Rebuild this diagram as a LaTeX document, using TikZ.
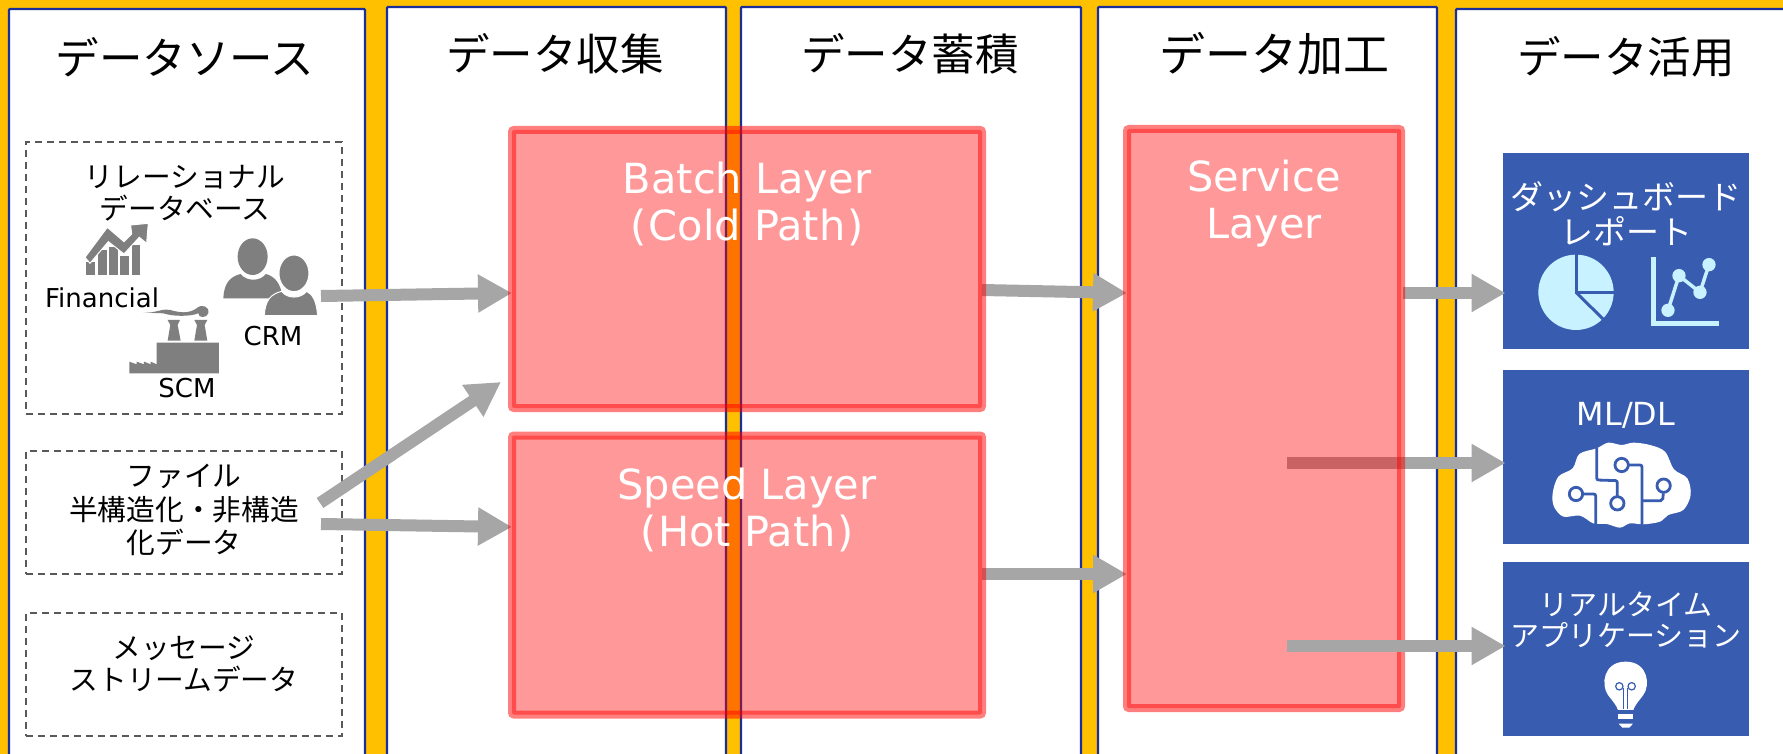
\documentclass[tikz,border=0pt]{standalone}
\usepackage{fontspec}
\usetikzlibrary{arrows.meta}
\setmainfont{DejaVu Sans}
\newfontfamily\jpfont{Noto Sans CJK JP}
\definecolor{amberbg}{HTML}{FFC000}
\definecolor{coledge}{HTML}{1B2F9B}
\definecolor{flowgray}{HTML}{A6A6A6}
\definecolor{appblue}{HTML}{385CB0}
\definecolor{applight}{HTML}{C8F2FF}
\definecolor{icongray}{HTML}{7F7F7F}
\newcommand{\fsize}[1]{\fontsize{#1}{#1}\selectfont}
\tikzset{
  coltitle/.style={text=black, font=\jpfont\fsize{43.5}},
  columnbox/.style={draw=coledge, fill=white, line width=2.2pt, rounded corners=1pt},
  sourcebox/.style={draw=black!65, dashed, line width=2pt, dash pattern=on 7pt off 5pt, minimum width=316pt, inner sep=0pt},
  sourcetext/.style={align=center, font=\jpfont\fontsize{28.7}{32}\selectfont},
  smalltext/.style={font=\fsize{26}},
  layerbox/.style={draw=red, draw opacity=0.5, fill=red, fill opacity=0.4, line width=8pt, rounded corners=2pt, inner sep=0pt, outer sep=0pt},
  layertext/.style={text=white, align=center, font=\fontsize{41.5}{47}\selectfont},
  appbox/.style={fill=appblue, minimum width=246pt, inner sep=0pt, outer sep=0pt},
  apptext/.style={text=white, align=center, font=\jpfont\fontsize{33}{35}\selectfont},
  flow/.style={draw=flowgray, line width=12pt, -{Triangle[length=34pt,width=36pt]}},
}

\begin{document}
\begin{tikzpicture}[x=1pt, y=-1pt]
      \useasboundingbox (0,0) rectangle (1783,754);
      \fill[amberbg] (0,0) rectangle (1783,754);

      % columns
      \draw[columnbox] (9,9) rectangle (365,770);
      \draw[columnbox] (387,7) rectangle (726,770);
      \draw[columnbox] (741,7) rectangle (1081,770);
      \draw[columnbox] (1098,7) rectangle (1437,770);
      \draw[columnbox] (1456,9) rectangle (1800,770);
      \node[coltitle] (titlesource) at (185,57) {データソース};
      \node[coltitle] (titlecollect) at (555,54) {データ収集};
      \node[coltitle] (titlestore) at (910,54) {データ蓄積};
      \node[coltitle, font=\jpfont\fsize{46}] (titleprocess) at (1274,54) {データ加工};
      \node[coltitle] (titleuse) at (1626,57) {データ活用};

      % sources
      \node[sourcebox, minimum height=272pt] (rdb) at (184,278) {};
      \node[sourcebox, minimum height=123pt] (files) at (184,512) {};
      \node[sourcebox, minimum height=123pt] (stream) at (184,674.5) {};
      \node[sourcetext] (rdbtext) at (185,193) {リレーショナル\\データベース};
      \node[sourcetext, font=\jpfont\fontsize{28.7}{33.5}\selectfont] (filetext) at (184,510) {ファイル\\半構造化・非構造\\化データ};
      \node[sourcetext] (streamtext) at (184,664) {メッセージ\\ストリームデータ};
      \node[smalltext] (fintext) at (102,298) {Financial};
      \node[smalltext] (crmtext) at (273,336) {CRM};
      \node[smalltext] (scmtext) at (187,388) {SCM};

      % financial icon
      \begin{scope}[shift={(0,130)}, scale=0.3333]
        \fill[icongray] (258,395) rectangle (285,435);
        \fill[icongray] (293,360) rectangle (320,435);
        \fill[icongray] (327,350) rectangle (353,435);
        \fill[icongray] (361,378) rectangle (387,435);
        \fill[icongray] (395,345) rectangle (420,435);
        \fill[icongray, draw=white, line width=1pt] (255,382) -- (322,292) -- (372,335) -- (395,312) -- (392,285) -- (445,280) -- (440,340) -- (418,322) -- (372,372) -- (325,335) -- (270,400) -- cycle;
      \end{scope}

      % people icon
      \begin{scope}[shift={(0,130)}, scale=0.3333]
        \fill[icongray] (758,380) ellipse (45 and 55);
        \fill[icongray] (670,505) .. controls (672,460) and (690,440) .. (722,432) .. controls (740,455) and (780,455) .. (798,432) .. controls (825,440) and (843,460) .. (848,505) -- cycle;
        \fill[icongray, draw=white, line width=1pt] (882,430) ellipse (45 and 55);
        \fill[icongray, draw=white, line width=1pt] (793,557) .. controls (795,512) and (812,492) .. (845,484) .. controls (862,507) and (902,507) .. (920,484) .. controls (937,492) and (950,512) .. (953,557) -- cycle;
      \end{scope}

      % factory icon
      \begin{scope}[shift={(0,130)}, scale=0.3333]
        \fill[icongray] (388,730) -- (388,695) -- (410,703) -- (410,695) -- (432,703) -- (432,695) -- (452,703) -- (452,695) -- (470,703) -- (470,638) -- (657,638) -- (657,730) -- cycle;
        \fill[icongray] (503,632) -- (511,585) -- (503,570) -- (540,570) -- (533,585) -- (542,632) -- cycle;
        \fill[icongray] (583,632) -- (591,585) -- (583,570) -- (622,570) -- (614,585) -- (622,632) -- cycle;
        \fill[icongray] (430,548) .. controls (470,550) and (480,535) .. (510,540) .. controls (540,548) and (565,552) .. (590,535) .. controls (605,520) and (630,530) .. (625,550) .. controls (620,565) and (595,565) .. (595,550) .. controls (570,560) and (520,560) .. (490,550) -- cycle;
      \end{scope}

      % flows
      \coordinate (crmout) at (321,296);
      \coordinate (fileup) at (320,503);
      \coordinate (upend) at (501,382);
      \coordinate (fileout) at (321,524);
      \coordinate (batchout) at (982,290);
      \coordinate (speedout) at (982,574);
      \coordinate (mlout) at (1287,463);
      \coordinate (rtout) at (1287,646);
      \coordinate (dashout) at (1403,293);

      \node[appbox, minimum height=196pt] (dash) at (1626,251) {};
      \node[appbox, minimum height=174pt] (ml) at (1626,457) {};
      \node[appbox, minimum height=174pt] (rt) at (1626,649) {};

      \coordinate (batchedge) at (512,293);
      \coordinate (speededge) at (512,527);
      \coordinate (serviceup) at (1127,293);
      \coordinate (servicedown) at (1127,574);
      \draw[flow] (crmout) -- (batchedge);
      \draw[flow] (fileup) -- (upend);
      \draw[flow] (fileout) -- (speededge);
      \draw[flow] (batchout) -- (serviceup);
      \draw[flow] (speedout) -- (servicedown);
      \draw[flow, shorten >=-2.5pt] (dashout) -- (dash.west |- dashout);
      \draw[flow, shorten >=-2.5pt] (mlout) -- (ml.west |- mlout);

      % layers
      \node[layerbox, minimum width=470pt, minimum height=278pt] (batch) at (747,269) {};
      \node[layerbox, minimum width=470pt, minimum height=279pt] (speed) at (747,575) {};
      \node[layerbox, minimum width=274pt, minimum height=579pt] (service) at (1264,418.5) {};
      \draw[flow, shorten >=-2.5pt] (rtout) -- (rt.west |- rtout);

      \node[layertext] (batchtext) at (747,204) {Batch Layer\\(\kern2.5pt Cold Path\kern2.5pt)};
      \node[layertext] (speedtext) at (747,510) {Speed Layer\\(\kern2pt Hot Path\kern2pt)};
      \node[layertext] (servicetext) at (1264,204) {Service\\Layer};

      % apps
      \node[apptext] (dashtext) at (1626,214) {ダッシュボード\\レポート};
      \node[apptext, font=\fsize{31.8}] (mltext) at (1626,415) {ML/DL};
      \node[apptext, font=\jpfont\fontsize{29}{31}\selectfont] (rttext) at (1626,620) {リアルタイム\\アプリケーション};

      % pie and line icons
      \begin{scope}[shift={(1480,140)}, scale=0.3333]
        \fill[applight] (288,457) circle (113);
        \draw[appblue, line width=3pt] (288,340) -- (288,457) -- (410,457);
        \draw[appblue, line width=3pt] (288,457) -- (372,540);
        \draw[applight, line width=5pt] (520,352) -- (520,552) -- (717,552);
        \draw[applight, line width=3.5pt] (564,511) -- (597,407) -- (660,457) -- (687,374);
        \foreach \px/\py [count=\i] in {564/511, 597/407, 660/457, 687/374}
          \fill[applight] (\px,\py) circle (20);
      \end{scope}

      % brain icon
      \begin{scope}[shift={(1480,360)}, scale=0.3333]
        \fill[white] plot[smooth cycle, tension=0.55] coordinates {(218,400) (235,350) (278,325) (298,282) (350,265) (385,248) (425,255) (460,248) (510,255) (555,275) (582,328) (622,355) (632,405) (610,450) (565,465) (540,485) (490,493) (450,490) (420,503) (380,492) (340,490) (300,467) (250,470) (222,440)};
        \draw[appblue, line width=2.8pt, rounded corners=2pt] (350,262) -- (350,360) -- (412,362) -- (412,410);
        \draw[appblue, line width=2.8pt, rounded corners=2pt] (445,315) -- (486,315) -- (486,495);
        \draw[appblue, line width=2.8pt, rounded corners=2pt] (550,400) -- (548,422) -- (488,422);
        \draw[appblue, line width=2.8pt, rounded corners=2pt] (310,402) -- (347,402) -- (347,492);
        \foreach \cx/\cy [count=\j] in {425/315, 412/430, 551/377, 288/402}
          \draw[appblue, fill=white, line width=2.8pt] (\cx,\cy) circle (20);
      \end{scope}

      % bulb icon
      \begin{scope}[shift={(1480,360)}, scale=0.3333]
        \fill[white] (384,1005) .. controls (362,975) and (370,905) .. (437,905) .. controls (504,905) and (512,975) .. (490,1005) .. controls (475,1025) and (465,1035) .. (460,1050) -- (414,1050) .. controls (409,1035) and (399,1025) .. (384,1005) -- cycle;
        \draw[appblue, line width=1.2pt] (430,1048) -- (430,985);
        \draw[appblue, line width=1.2pt] (443,1048) -- (443,985);
        \draw[appblue, line width=1.2pt] (418,979) circle (11);
        \draw[appblue, line width=1.2pt] (455,979) circle (11);
        \fill[white] (414,1062) rectangle (460,1077);
        \fill[white] (416,1091) -- (459,1091) -- (448,1103) -- (427,1103) -- cycle;
      \end{scope}
\end{tikzpicture}
\end{document}
